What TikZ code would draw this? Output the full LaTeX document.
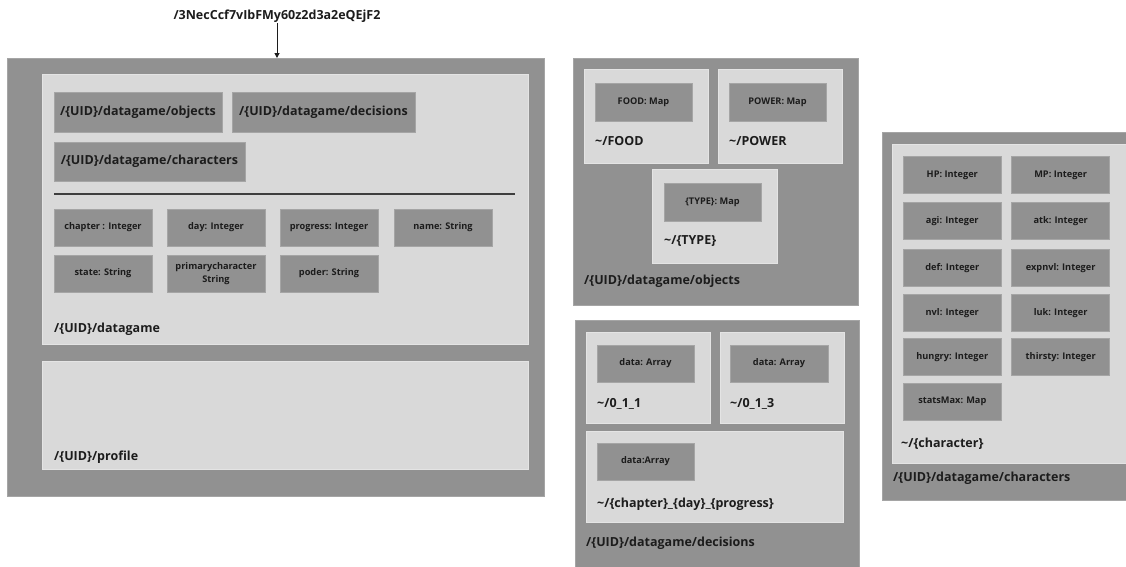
\documentclass[tikz,border=0pt]{standalone}
\usepackage{fontspec}
\setmainfont{Open Sans}
\usetikzlibrary{arrows.meta}

\definecolor{panel}{RGB}{145,145,145}
\definecolor{sheet}{RGB}{217,217,217}
\definecolor{ink}{RGB}{28,28,28}
\definecolor{paneledge}{RGB}{165,165,165}
\definecolor{sheetedge}{RGB}{228,228,228}

\newcommand\lblfont{\fontsize{12.5}{15}\selectfont\bfseries}
\newcommand\fldfont{\fontsize{9.2}{12.6}\selectfont\bfseries}

\tikzset{
  panelbox/.style={fill=panel, draw=paneledge, line width=0.6pt,
    anchor=north west, inner sep=0pt, outer sep=0pt},
  sheetbox/.style={fill=sheet, draw=sheetedge, line width=0.6pt,
    anchor=north west, inner sep=0pt, outer sep=0pt},
  field/.style={panelbox, minimum width=98pt, minimum height=37pt,
    align=center, font=\fldfont, text=ink},
  keybtn/.style={panelbox, minimum height=40pt, font=\lblfont, text=ink},
  pathlabel/.style={anchor=west, inner sep=0pt, font=\lblfont, text=ink,
    text height=9pt, text depth=3pt},
}

\begin{document}
\begin{tikzpicture}[x=1pt, y=-1pt]
\useasboundingbox[fill=white] (0,0) rectangle (1126,566);

% ---------- root document ----------
\node[anchor=center, inner sep=1pt, font=\lblfont, text=ink] (title) at (277,16)
  {/3NecCcf7vIbFMy60z2d3a2eQEjF2};
\node[panelbox, minimum width=536.5pt, minimum height=438pt] (root) at (7.5,58) {};
\draw[ink, line width=1pt, -{Triangle[width=5pt,length=5pt]}]
  (title.south) -- (root.north -| title.south);

% datagame collection
\node[sheetbox, minimum width=486pt, minimum height=270pt] (datagame) at (42,74) {};
\node[keybtn, minimum width=168pt] (btnobjects) at (54,92) {/\{UID\}/datagame/objects};
\node[keybtn, minimum width=183pt] (btndecisions) at (232,92) {/\{UID\}/datagame/decisions};
\node[keybtn, minimum width=191pt, minimum height=39pt] (btncharacters) at (54,142) {/\{UID\}/datagame/characters};
\coordinate (sepL) at (54,194);
\coordinate (sepR) at (515,194);
\draw[ink!85, line width=1.6pt] (sepL) -- (sepR);

\node[field] (fchapter) at (54,209) {chapter : Integer};
\node[field] (fday) at (167,209) {day: Integer};
\node[field] (fprogress) at (280,209) {progress: Integer};
\node[field] (fname) at (394,209) {name: String};
\node[field] (fstate) at (54,255) {state: String};
\node[field] (fprimary) at (167,255) {primarycharacter\\String};
\node[field] (fpoder) at (280,255) {poder: String};
\node[pathlabel] (lbldatagame) at (54,329) {/\{UID\}/datagame};

% profile collection
\node[sheetbox, minimum width=486pt, minimum height=108pt] (profile) at (42,361) {};
\node[pathlabel] (lblprofile) at (54,457) {/\{UID\}/profile};

% ---------- objects ----------
\node[panelbox, minimum width=285pt, minimum height=247pt] (objects) at (573,58) {};
\node[sheetbox, minimum width=124pt, minimum height=94pt] (food) at (584,69) {};
\node[field, minimum width=97pt, minimum height=38pt] (foodmap) at (595,83) {FOOD: Map};
\node[pathlabel] (lblfood) at (595,142) {\textasciitilde/FOOD};
\node[sheetbox, minimum width=124pt, minimum height=94pt] (power) at (718,69) {};
\node[field, minimum width=97pt, minimum height=38pt] (powermap) at (729,83) {POWER: Map};
\node[pathlabel] (lblpower) at (729,142) {\textasciitilde/POWER};
\node[sheetbox, minimum width=125pt, minimum height=94pt] (type) at (652,169) {};
\node[field, minimum width=97pt, minimum height=38pt] (typemap) at (664,183) {\{TYPE\}: Map};
\node[pathlabel] (lbltype) at (664,241) {\textasciitilde/\{TYPE\}};
\node[pathlabel] (lblobjects) at (584,281) {/\{UID\}/datagame/objects};

% ---------- decisions ----------
\node[panelbox, minimum width=284pt, minimum height=260pt] (decisions) at (575,320) {};
\node[sheetbox, minimum width=124pt, minimum height=91pt] (d011) at (586,332) {};
\node[field, minimum width=97pt] (d011data) at (597,345) {data: Array};
\node[pathlabel] (lbld011) at (597,404) {\textasciitilde/0\_1\_1};
\node[sheetbox, minimum width=124pt, minimum height=91pt] (d013) at (720,332) {};
\node[field, minimum width=98pt] (d013data) at (730,345) {data: Array};
\node[pathlabel] (lbld013) at (730,404) {\textasciitilde/0\_1\_3};
\node[sheetbox, minimum width=257pt, minimum height=91pt] (dgeneric) at (586,431) {};
\node[field, minimum width=97pt] (dgenericdata) at (597,443) {data:Array};
\node[pathlabel] (lbldgeneric) at (597,504) {\textasciitilde/\{chapter\}\_\{day\}\_\{progress\}};
\node[pathlabel] (lbldecisions) at (586,543) {/\{UID\}/datagame/decisions};

% ---------- characters ----------
\node[panelbox, minimum width=260pt, minimum height=367.5pt] (characters) at (882.7,132.5) {};
\node[sheetbox, minimum width=240pt, minimum height=319.3pt] (character) at (892.7,144) {};
\node[field] (cHP) at (903.3,156.5) {HP: Integer};
\node[field] (cMP) at (1011.7,156.5) {MP: Integer};
\node[field] (cagi) at (903.3,202.3) {agi: Integer};
\node[field] (catk) at (1011.7,202.3) {atk: Integer};
\node[field] (cdef) at (903.3,249.3) {def: Integer};
\node[field] (cexp) at (1011.7,249.3) {expnvl: Integer};
\node[field] (cnvl) at (903.3,294.3) {nvl: Integer};
\node[field] (cluk) at (1011.7,294.3) {luk: Integer};
\node[field] (chungry) at (903.3,338.3) {hungry: Integer};
\node[field] (cthirsty) at (1011.7,338.3) {thirsty: Integer};
\node[field] (cstats) at (903.3,383.3) {statsMax: Map};
\node[pathlabel] (lblcharacter) at (901,444) {\textasciitilde/\{character\}};
\node[pathlabel] (lblcharacters) at (893,478) {/\{UID\}/datagame/characters};
\end{tikzpicture}
\end{document}
